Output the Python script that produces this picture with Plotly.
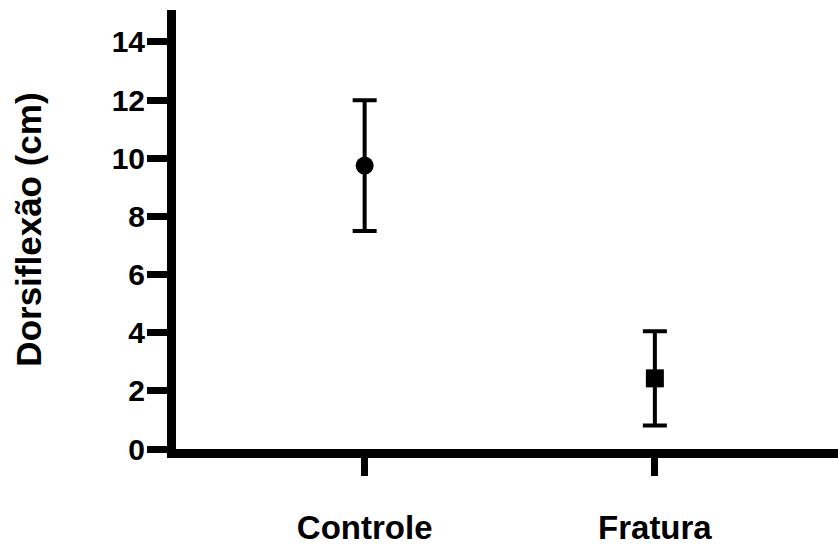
import plotly.graph_objects as go

categories = ["Controle", "Fratura"]
means = [9.75, 2.43]
errors = [2.25, 1.62]
symbols = ["circle", "square"]
y_ticks = [0, 2, 4, 6, 8, 10, 12, 14]

FONT = "Liberation Sans, Arial, sans-serif"

fig = go.Figure()
for i, cat in enumerate(categories):
    fig.add_trace(go.Scatter(
        x=[i], y=[means[i]], mode="markers",
        marker=dict(symbol=symbols[i], size=18, color="black"),
        error_y=dict(type="data", array=[errors[i]], visible=True,
                     color="black", thickness=4, width=12),
        showlegend=False, name=cat,
    ))

fig.update_layout(
    width=838, height=545,
    margin=dict(l=176, r=0, t=10, b=96),
    plot_bgcolor="white", paper_bgcolor="white",
    font=dict(family=FONT, color="black"),
    showlegend=False,
)
fig.update_xaxes(
    range=[-0.65, 1.631], automargin=False,
    tickmode="array", tickvals=list(range(len(categories))), ticktext=categories,
    ticks="outside", ticklen=18, tickwidth=7, tickcolor="black",
    showline=True, linewidth=9, linecolor="black",
    showgrid=False, zeroline=False,
    tickfont=dict(size=33, family=FONT, weight="bold"),
    ticklabelstandoff=23,
)
fig.update_yaxes(
    range=[0, 15.1], automargin=False,
    tickmode="array", tickvals=y_ticks,
    ticks="outside", ticklen=20, tickwidth=7, tickcolor="black",
    showline=True, linewidth=9, linecolor="black",
    showgrid=False, zeroline=False,
    tickfont=dict(size=30, family=FONT, weight="bold"),
    title=dict(text="Dorsiflexão (cm)", font=dict(size=35, family=FONT, weight="bold"), standoff=63),
    ticklabelstandoff=-4,
)
fig.write_html("out.html", config={"displayModeBar": False},
               post_script="document.body.style.margin='0';")
